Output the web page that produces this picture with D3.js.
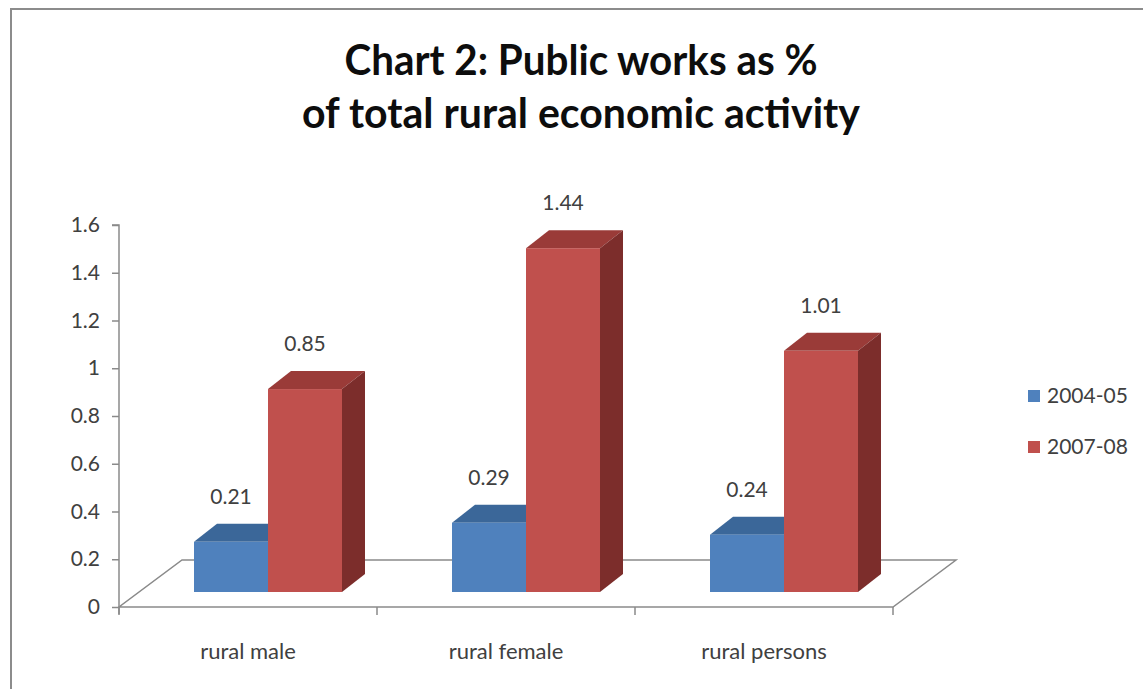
<!DOCTYPE html>
<html>
<head>
<meta charset="utf-8">
<script src="https://cdn.jsdelivr.net/npm/d3@7"></script>
<style>
  html, body { margin: 0; padding: 0; background: #ffffff; }
  svg { display: block; }
  text { font-family: Lato, "Open Sans", sans-serif; }
</style>
</head>
<body>
<svg id="chart" width="1143" height="689"></svg>
<script>
// Chart data
const categories = ["rural male", "rural female", "rural persons"];
const seriesNames = ["2004-05", "2007-08"];
const values2004 = [0.21, 0.29, 0.24];
const values2007 = [0.85, 1.44, 1.01];
const yTicks = [0, 0.2, 0.4, 0.6, 0.8, 1, 1.2, 1.4, 1.6];
const titleLines = ["Chart 2: Public works as %", "of total rural economic activity"];

const series = [
  { name: seriesNames[0], values: values2004, front: "#4f81bd", top: "#3b6799", side: "#345b8a" },
  { name: seriesNames[1], values: values2007, front: "#c0504d", top: "#9a3b38", side: "#7c2d2b" }
];

const svg = d3.select("#chart");

// outer frame (left and top edges)
svg.append("path")
  .attr("d", "M11,689 L11,9 L1143,9")
  .attr("fill", "none").attr("stroke", "#8c8c8c").attr("stroke-width", 2);

// title
const title = svg.append("g");
const titleWidths = [473, 558];
titleLines.forEach((t, i) => {
  title.append("text")
    .attr("x", 581).attr("y", 75 + i * 53)
    .attr("text-anchor", "middle")
    .attr("font-size", 42).attr("font-weight", 700)
    .attr("fill", "#0d0d0d")
    .attr("textLength", titleWidths[i])
    .attr("lengthAdjust", "spacingAndGlyphs")
    .text(t);
});

// plot geometry
const floorLeft = 119, floorRight = 893, floorFront = 607;
const depth = { dx: 63, dy: -47 };      // floor depth offset
const barShift = { dx: 20, dy: -15 };   // bar front face offset from floor front
const barDepth = { dx: 23, dy: -18 };   // bar thickness in depth
const barWidth = 74;

const x = d3.scaleBand().domain(categories).range([floorLeft, floorRight]);
const y = d3.scaleLinear().domain([0, 1.6]).range([floorFront, 225]);

// floor
const axisColor = "#8a8a8a";
svg.append("path")
  .attr("d", `M${floorLeft},${floorFront} L${floorRight},${floorFront} L${floorRight + depth.dx},${floorFront + depth.dy} L${floorLeft + depth.dx},${floorFront + depth.dy} Z`)
  .attr("fill", "#ffffff").attr("stroke", axisColor).attr("stroke-width", 1.5);

// value axis
const yAxis = d3.axisLeft(y).tickValues(yTicks).tickSize(7).tickPadding(12)
  .tickFormat(d3.format("~g"));
const gy = svg.append("g").attr("transform", `translate(${floorLeft},0)`).call(yAxis);
gy.select(".domain").attr("stroke", axisColor).attr("stroke-width", 1.5)
  .attr("d", `M-7,${y(1.6)}H0V${floorFront + 7}`);
gy.selectAll(".tick line").attr("stroke", axisColor).attr("stroke-width", 1.5);
gy.selectAll(".tick text").attr("font-size", 21).attr("fill", "#404040")
  .attr("font-family", "Lato, 'Open Sans', sans-serif");

// category axis
const xAxis = d3.axisBottom(x).tickSize(0).tickPadding(36);
const gx = svg.append("g").attr("transform", `translate(0,${floorFront})`).call(xAxis);
gx.select(".domain").remove();
gx.selectAll(".tick text").attr("font-size", 22).attr("fill", "#404040")
  .attr("font-family", "Lato, 'Open Sans', sans-serif");
// category separators
const bounds = categories.map(c => x(c)).concat([floorRight]);
svg.append("g").selectAll("line").data(bounds).join("line")
  .attr("x1", d => d).attr("x2", d => d)
  .attr("y1", floorFront).attr("y2", floorFront + 8)
  .attr("stroke", axisColor).attr("stroke-width", 1.5);

// 3D columns
const bars = svg.append("g");
categories.forEach((c, ci) => {
  const center = x(c) + x.bandwidth() / 2 + barShift.dx;
  series.forEach((s, si) => {
    const v = s.values[ci];
    const x0 = center - barWidth + si * barWidth;
    const x1 = x0 + barWidth;
    const yb = floorFront + barShift.dy;
    const yt = y(v) + barShift.dy;
    const g = bars.append("g");
    // top face
    g.append("path")
      .attr("d", `M${x0},${yt} L${x1},${yt} L${x1 + barDepth.dx},${yt + barDepth.dy} L${x0 + barDepth.dx},${yt + barDepth.dy} Z`)
      .attr("fill", s.top);
    // side face
    g.append("path")
      .attr("d", `M${x1},${yt} L${x1 + barDepth.dx},${yt + barDepth.dy} L${x1 + barDepth.dx},${yb + barDepth.dy} L${x1},${yb} Z`)
      .attr("fill", s.side);
    // front face
    g.append("rect")
      .attr("x", x0).attr("y", yt).attr("width", barWidth).attr("height", yb - yt)
      .attr("fill", s.front);
  });
});

// data labels
const labels = svg.append("g");
categories.forEach((c, ci) => {
  const center = x(c) + x.bandwidth() / 2 + barShift.dx;
  series.forEach((s, si) => {
    const v = s.values[ci];
    const cx = center - barWidth / 2 + si * barWidth;
    labels.append("text")
      .attr("x", cx).attr("y", y(v) + barShift.dy + barDepth.dy - 20)
      .attr("text-anchor", "middle")
      .attr("font-size", 21).attr("fill", "#404040")
      .text(d3.format(".2f")(v));
  });
});

// legend
const legend = svg.append("g");
series.forEach((s, i) => {
  legend.append("rect")
    .attr("x", 1028).attr("y", 390 + i * 51).attr("width", 12).attr("height", 12)
    .attr("fill", s.front);
  legend.append("text")
    .attr("x", 1047).attr("y", 403 + i * 51)
    .attr("font-size", 21).attr("fill", "#404040")
    .text(s.name);
});
</script>
</body>
</html>
